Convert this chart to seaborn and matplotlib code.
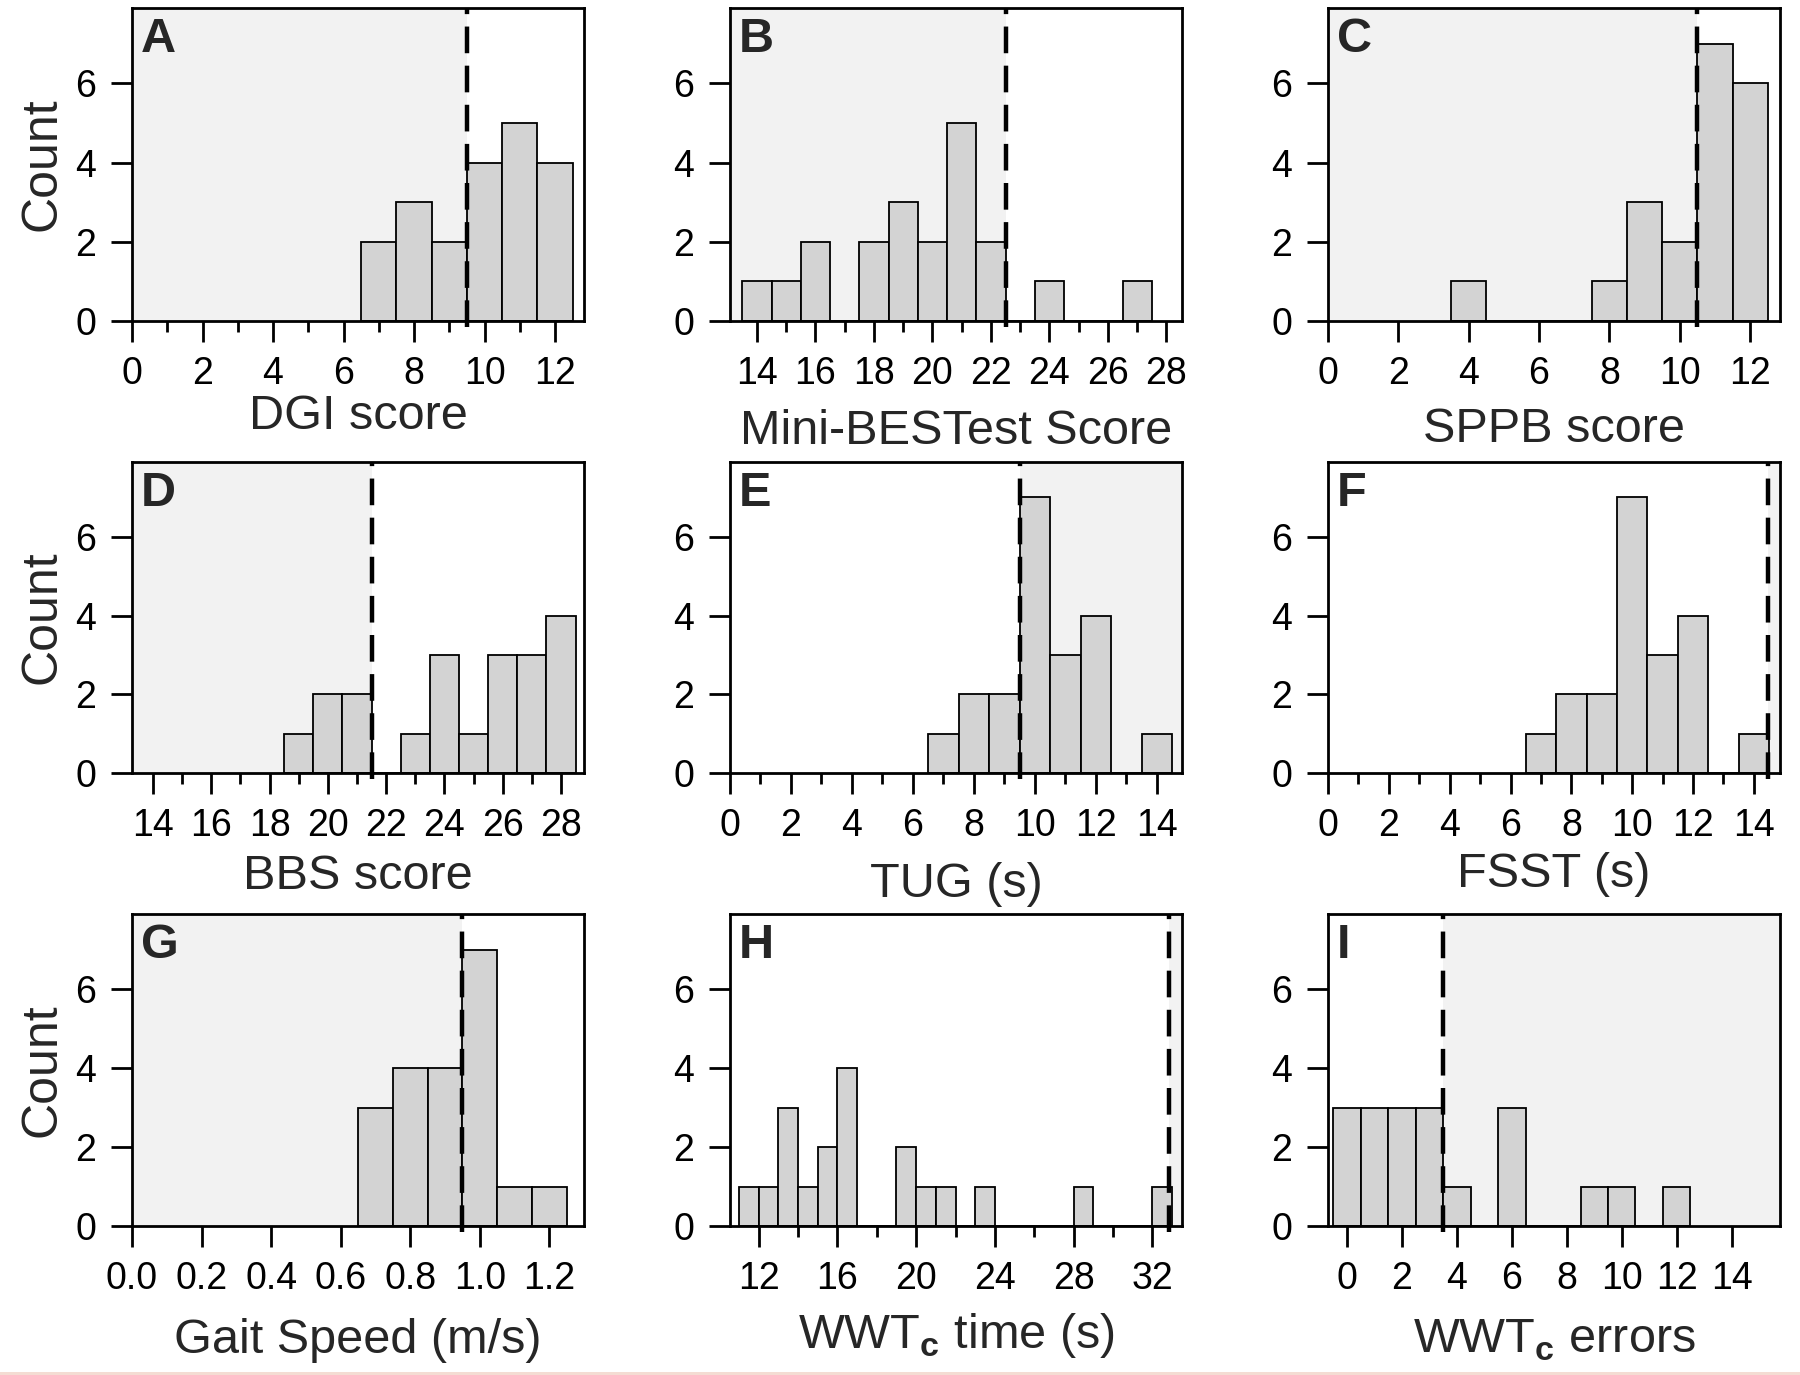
import numpy as np
import pandas as pd
import matplotlib
matplotlib.use("Agg")
import matplotlib.pyplot as plt
from matplotlib.patches import Rectangle
from matplotlib.ticker import FixedLocator, FormatStrFormatter, NullLocator
import seaborn as sns

sns.set_style("ticks")
plt.rcParams['font.family'] = ['Liberation Sans', 'DejaVu Sans']
plt.rcParams['mathtext.fontset'] = 'custom'
plt.rcParams['mathtext.rm'] = 'Liberation Sans'
plt.rcParams['mathtext.bf'] = 'Liberation Sans:bold'
plt.rcParams['axes.edgecolor'] = 'black'
plt.rcParams['axes.linewidth'] = 2.0

dgi_bins = [7, 8, 9, 10, 11, 12]
dgi_counts = [2, 3, 2, 4, 5, 4]
mini_bins = [14, 15, 16, 18, 19, 20, 21, 22, 24, 27]
mini_counts = [1, 1, 2, 2, 3, 2, 5, 2, 1, 1]
sppb_bins = [4, 8, 9, 10, 11, 12]
sppb_counts = [1, 1, 3, 2, 7, 6]
bbs_bins = [19, 20, 21, 23, 24, 25, 26, 27, 28]
bbs_counts = [1, 2, 2, 1, 3, 1, 3, 3, 4]
tug_bins = [7, 8, 9, 10, 11, 12, 14]
tug_counts = [1, 2, 2, 7, 3, 4, 1]
fsst_bins = [7, 8, 9, 10, 11, 12, 14]
fsst_counts = [1, 2, 2, 7, 3, 4, 1]
gait_bins = [0.7, 0.8, 0.9, 1.0, 1.1, 1.2]
gait_counts = [3, 4, 4, 7, 1, 1]
wwt_time_bins = [11.5, 12.5, 13.5, 14.5, 15.5, 16.5, 19.5, 20.5, 21.5, 23.5, 28.5, 32.5]
wwt_time_counts = [1, 1, 3, 1, 2, 4, 2, 1, 1, 1, 1, 1]
wwt_err_bins = [0, 1, 2, 3, 4, 6, 9, 10, 12]
wwt_err_counts = [3, 3, 3, 3, 1, 3, 1, 1, 1]

bin_widths = [1, 1, 1, 1, 1, 1, 0.1, 1, 1]
cutoffs = [9.5, 22.5, 10.5, 21.5, 9.5, 14.47, 0.95, 32.85, 3.5]
shade_side = ['left', 'left', 'left', 'left', 'right', 'right', 'left', 'right', 'right']
letters = ['A', 'B', 'C', 'D', 'E', 'F', 'G', 'H', 'I']
xlabels = ['DGI score', 'Mini-BESTest Score', 'SPPB score',
           'BBS score', 'TUG (s)', 'FSST (s)',
           'Gait Speed (m/s)', r'WWT$_\mathbf{c}$ time (s)', r'WWT$_\mathbf{c}$ errors']
all_bins = [dgi_bins, mini_bins, sppb_bins, bbs_bins, tug_bins, fsst_bins,
            gait_bins, wwt_time_bins, wwt_err_bins]
all_counts = [dgi_counts, mini_counts, sppb_counts, bbs_counts, tug_counts, fsst_counts,
              gait_counts, wwt_time_counts, wwt_err_counts]

# --- axis layout ---
xlims = [(0, 12.82), (13.08, 28.53), (0, 12.85),
         (13.28, 28.79), (0, 14.82), (0, 14.86),
         (0, 1.3), (10.55, 33.5), (-0.69, 15.76)]
major_ticks = [np.arange(0, 13, 2), np.arange(14, 29, 2), np.arange(0, 13, 2),
               np.arange(14, 29, 2), np.arange(0, 15, 2), np.arange(0, 15, 2),
               np.linspace(0, 1.2, 7), np.arange(12, 33, 4), np.arange(0, 15, 2)]
minor_ticks = [np.arange(1, 12, 2), np.arange(15, 28, 2), None,
               np.arange(15, 28, 2), np.arange(1, 14, 2), np.arange(1, 14, 2),
               None, np.arange(14, 31, 4), None]
label_off = [74, 89, 87, 82, 90, 80, 93, 86, 93]   # px from x-axis to label cap top

W, H = 1800, 1375
col_left = [132, 730, 1328]
col_w = 452
rows = [(8, 321), (462, 773), (914, 1226)]

fig = plt.figure(figsize=(18, 13.75), dpi=100)

for i in range(9):
    r, c = divmod(i, 3)
    top, bot = rows[r]
    ax_h = bot - top
    ax = fig.add_axes([col_left[c] / W, 1 - bot / H, col_w / W, ax_h / H])

    lo, hi = xlims[i]
    cut = cutoffs[i]
    if shade_side[i] == 'left':
        ax.axvspan(lo, cut, color='#f2f2f2', lw=0, zorder=0)
    else:
        ax.axvspan(cut, hi, color='#f2f2f2', lw=0, zorder=0)

    w = bin_widths[i]
    df = pd.DataFrame({'value': all_bins[i], 'count': all_counts[i]})
    vmin, vmax = df['value'].min(), df['value'].max()
    n_bins = int(round((vmax - vmin) / w)) + 1
    edges = [float(vmin - w / 2 + k * w) for k in range(n_bins + 1)]
    sns.histplot(data=df, x='value', weights='count', bins=edges, color='#d3d3d3',
                 edgecolor='black', linewidth=1.3, alpha=1, ax=ax, zorder=2)

    ax.axvline(cut, ymin=-0.02, ymax=1, color='black', lw=3.2,
               ls=(0, (6, 2.8)), clip_on=False, zorder=4)

    ax.set_xlim(lo, hi)
    ax.set_ylim(0, 7.9)
    ax.set_yticks([0, 2, 4, 6])
    ax.xaxis.set_major_locator(FixedLocator(major_ticks[i]))
    if minor_ticks[i] is not None:
        ax.xaxis.set_minor_locator(FixedLocator(minor_ticks[i]))
    else:
        ax.xaxis.set_minor_locator(NullLocator())
    if i == 6:
        ax.xaxis.set_major_formatter(FormatStrFormatter('%.1f'))
    ax.tick_params(axis='both', which='major', length=15, width=2, labelsize=27,
                   color='black', labelcolor='black')
    ax.tick_params(axis='x', which='major', pad=10.5)
    ax.tick_params(axis='y', which='major', pad=11)
    ax.tick_params(axis='x', which='minor', length=8, width=2, color='black')

    for sp in ax.spines.values():
        sp.set_linewidth(2.0)
        sp.set_color('black')
        sp.set_zorder(5)

    ax.set_xlabel(xlabels[i], fontsize=35)
    ax.xaxis.set_label_coords(0.5, -(label_off[i] - 1) / ax_h)
    if c == 0:
        ax.set_ylabel('Count', fontsize=36)
        ax.yaxis.set_label_coords(-0.148, 0.5)
    else:
        ax.set_ylabel('')

    ax.text(0.02, 0.97, letters[i], transform=ax.transAxes, ha='left', va='top',
            fontsize=35, fontweight='bold', zorder=6)

fig.add_artist(Rectangle((0, 0), 1, 3 / H, transform=fig.transFigure,
                         color='#f4dcd3', lw=0))

fig.savefig('out.png', dpi=100)
plt.close(fig)
